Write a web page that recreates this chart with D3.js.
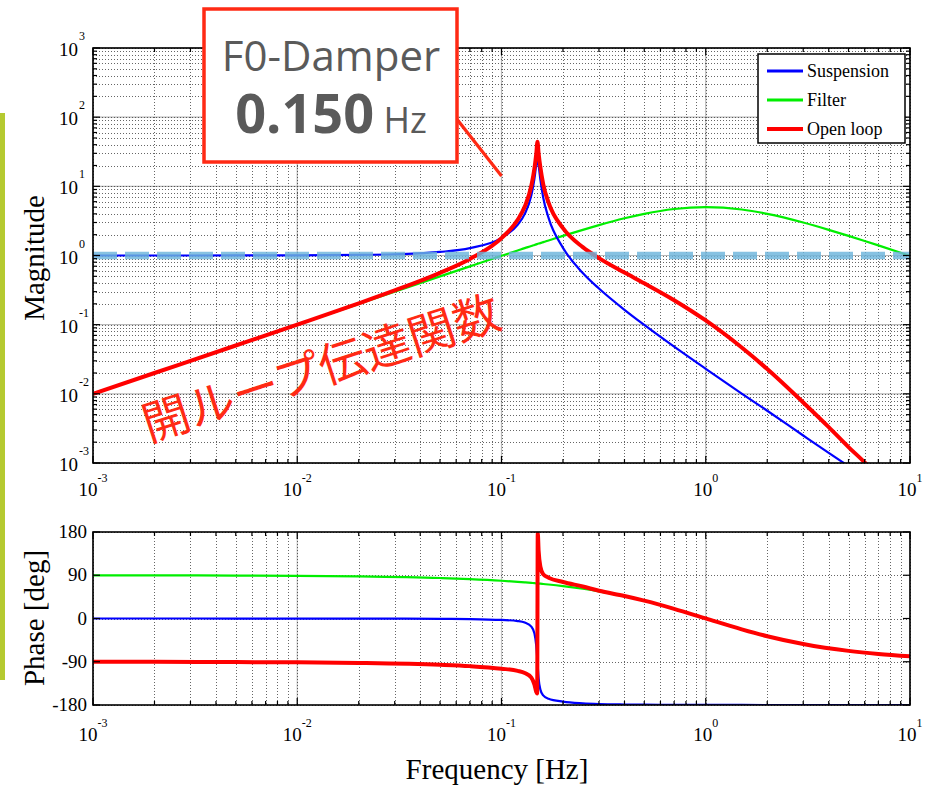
<!DOCTYPE html>
<html>
<head>
<meta charset="utf-8">
<script src="https://cdn.jsdelivr.net/npm/d3@7"></script>
<style>
  body { margin: 0; background: #fff; }
  svg { display: block; }
</style>
</head>
<body>
<svg id="chart" width="932" height="785"></svg>
<script>
// ---- data -------------------------------------------------------------
const freqHz = [0.001, 0.002, 0.005, 0.01, 0.02, 0.03, 0.05, 0.07, 0.1, 0.12, 0.13, 0.14, 0.145, 0.148, 0.15, 0.152, 0.155, 0.16, 0.17, 0.2, 0.25, 0.3, 0.4, 0.5, 0.7, 1, 1.5, 2, 3, 4, 5, 6, 7, 10];
const magSuspension = [1.0, 1.0, 1.001, 1.004, 1.018, 1.042, 1.125, 1.28, 1.8, 2.78, 4.0, 7.4, 12.9, 20.4, 24, 20, 12.5, 6.9, 3.5, 1.29, 0.56, 0.333, 0.164, 0.099, 0.048, 0.023, 0.0101, 0.0057, 0.0025, 0.0014, 0.0009, 0.00063, 0.00046, 0.000225];
const magFilter = [0.01, 0.02, 0.05, 0.1, 0.2, 0.3, 0.499, 0.697, 0.99, 1.18, 1.28, 1.37, 1.42, 1.45, 1.47, 1.49, 1.51, 1.56, 1.65, 1.92, 2.35, 2.75, 3.45, 4.0, 4.7, 5.0, 4.62, 4.0, 3.0, 2.35, 1.92, 1.62, 1.4, 0.99];
const magOpenLoop = [0.01, 0.02, 0.05, 0.1004, 0.2036, 0.3126, 0.562, 0.892, 1.78, 3.29, 5.1, 10.2, 18.3, 29.6, 44, 29.7, 18.9, 10.8, 5.8, 2.48, 1.32, 0.917, 0.566, 0.396, 0.226, 0.115, 0.0467, 0.0228, 0.0075, 0.0033, 0.0017, 0.00102, 0.00064, 0.00022];

const freqPhaseHz = [0.001, 0.002, 0.005, 0.01, 0.02, 0.05, 0.07, 0.1, 0.12, 0.13, 0.14, 0.145, 0.148, 0.1495, 0.1505, 0.152, 0.155, 0.16, 0.17, 0.2, 0.25, 0.3, 0.4, 0.5, 0.7, 1, 1.5, 2, 3, 5, 7, 10];
const phaseSuspension = [0, 0, -0.1, -0.1, -0.2, -0.6, -1.1, -3, -5.3, -8.5, -17, -31, -57, -80, -100, -125, -148, -160, -167, -173, -176.5, -178, -179, -179.4, -179.7, -179.8, -179.9, -180, -180, -180, -180, -180];
const phaseFilter = [89.9, 89.8, 89.4, 88.9, 87.7, 84.3, 82.0, 78.6, 76.3, 75.2, 74.1, 73.5, 73.2, 73.0, 72.9, 72.7, 72.4, 71.8, 70.7, 67.4, 61.9, 56.6, 46.4, 36.9, 20.0, 0, -22.6, -36.9, -53.1, -67.4, -73.7, -78.6];
const phaseOpenLoop = [-90.1, -90.2, -90.7, -91.2, -92.5, -96.3, -99.1, -104.4, -109, -113.3, -122.9, -137.5, -153, -156, 178, 140, 108, 92, 85, 76, 66.5, 57.8, 46.8, 37.1, 20.1, 0.1, -22.5, -36.9, -53.1, -67.4, -73.7, -78.6];

const seriesNames = ["Suspension", "Filter", "Open loop"];
const seriesColors = ["#0000ff", "#00ee00", "#ff0000"];
const seriesWidths = [2.2, 2.2, 4];

const freqExponents = [-3, -2, -1, 0, 1];
const magExponents = [-3, -2, -1, 0, 1, 2, 3];
const phaseTicks = [-180, -90, 0, 90, 180];

const resonanceLabel = ["F0-Damper", "0.150", "Hz"];
const unityGain = 1;

// ---- layout -----------------------------------------------------------
const svg = d3.select("#chart");
const L = 93, R = 910;
const mag = { top: 48, bottom: 463 };
const ph = { top: 532, bottom: 705 };

const x = d3.scaleLog().domain([1e-3, 10]).range([L, R]);
const yMag = d3.scaleLog().domain([1e-3, 1e3]).range([mag.bottom, mag.top]);
const yPh = d3.scaleLinear().domain([-180, 180]).range([ph.bottom, ph.top]);

const serif = "'Liberation Serif', 'Times New Roman', serif";

// side accent bar
svg.append("rect").attr("x", 0).attr("y", 113).attr("width", 5).attr("height", 567).attr("fill", "#b5ca30");

const defs = svg.append("defs");
defs.append("clipPath").attr("id", "clipMag").append("rect")
  .attr("x", L).attr("y", mag.top).attr("width", R - L).attr("height", mag.bottom - mag.top);
defs.append("clipPath").attr("id", "clipPh").append("rect")
  .attr("x", L).attr("y", ph.top).attr("width", R - L).attr("height", ph.bottom - ph.top);

const xTicksAll = x.ticks();           // 1..9 x 10^k
const isMajor = v => Math.abs(Math.log10(v) - Math.round(Math.log10(v))) < 1e-9;

// ---- magnitude grid ---------------------------------------------------
const gMag = svg.append("g");
const gridMinor = { stroke: "#333", "stroke-width": 1, "stroke-dasharray": "1,2", opacity: 0.75 };
function applyAttrs(sel, attrs) { Object.entries(attrs).forEach(([k, v]) => sel.attr(k, v)); return sel; }

const yMagTicksAll = yMag.ticks();
// major grid (solid light grey)
gMag.selectAll(".vmaj").data(xTicksAll.filter(isMajor)).join("line")
  .attr("x1", d => x(d)).attr("x2", d => x(d)).attr("y1", mag.top).attr("y2", mag.bottom)
  .attr("stroke", "#b8b8b8").attr("stroke-width", 1.2);
gMag.selectAll(".hmaj").data(yMagTicksAll.filter(isMajor)).join("line")
  .attr("y1", d => yMag(d)).attr("y2", d => yMag(d)).attr("x1", L).attr("x2", R)
  .attr("stroke", "#b8b8b8").attr("stroke-width", 1.2);
// dotted grid at every tick
applyAttrs(gMag.selectAll(".vmin").data(xTicksAll).join("line")
  .attr("x1", d => Math.round(x(d)) + 0.5).attr("x2", d => Math.round(x(d)) + 0.5)
  .attr("y1", mag.top).attr("y2", mag.bottom), gridMinor);
applyAttrs(gMag.selectAll(".hmin").data(yMagTicksAll).join("line")
  .attr("y1", d => Math.round(yMag(d)) + 0.5).attr("y2", d => Math.round(yMag(d)) + 0.5)
  .attr("x1", L).attr("x2", R), gridMinor);

// ---- phase grid -------------------------------------------------------
const gPh = svg.append("g");
gPh.selectAll(".vmaj").data(xTicksAll.filter(isMajor)).join("line")
  .attr("x1", d => x(d)).attr("x2", d => x(d)).attr("y1", ph.top).attr("y2", ph.bottom)
  .attr("stroke", "#c4c4c4").attr("stroke-width", 1.2);
applyAttrs(gPh.selectAll(".vmin").data(xTicksAll).join("line")
  .attr("x1", d => Math.round(x(d)) + 0.5).attr("x2", d => Math.round(x(d)) + 0.5)
  .attr("y1", ph.top).attr("y2", ph.bottom), gridMinor);
applyAttrs(gPh.selectAll(".hmin").data(phaseTicks).join("line")
  .attr("y1", d => Math.round(yPh(d)) + 0.5).attr("y2", d => Math.round(yPh(d)) + 0.5)
  .attr("x1", L).attr("x2", R), gridMinor);

// ---- curves -----------------------------------------------------------
const magData = [magSuspension, magFilter, magOpenLoop];
const phData = [phaseSuspension, phaseFilter, phaseOpenLoop];
const drawOrder = [1, 0, 2];

const magLine = d3.line().x(d => x(d[0])).y(d => yMag(d[1])).curve(d3.curveMonotoneX);
const phLine = d3.line().x(d => x(d[0])).y(d => yPh(d[1])).curve(d3.curveMonotoneX);

const gMagCurves = svg.append("g").attr("clip-path", "url(#clipMag)");
drawOrder.forEach(i => {
  gMagCurves.append("path")
    .attr("d", magLine(freqHz.map((f, j) => [f, magData[i][j]])))
    .attr("fill", "none").attr("stroke", seriesColors[i]).attr("stroke-width", seriesWidths[i])
    .attr("stroke-linejoin", "round");
});
// unity-gain reference
gMagCurves.append("line")
  .attr("x1", L).attr("x2", R).attr("y1", yMag(unityGain)).attr("y2", yMag(unityGain))
  .attr("stroke", "#6db5dc").attr("stroke-width", 7.5).attr("stroke-dasharray", "24,8")
  .attr("opacity", 0.82);

const gPhCurves = svg.append("g").attr("clip-path", "url(#clipPh)");
drawOrder.forEach(i => {
  gPhCurves.append("path")
    .attr("d", phLine(freqPhaseHz.map((f, j) => [f, phData[i][j]])))
    .attr("fill", "none").attr("stroke", seriesColors[i]).attr("stroke-width", seriesWidths[i])
    .attr("stroke-linejoin", "round");
});

// ---- axes frames and ticks -------------------------------------------
function frame(top, bottom, yTicks, yMajorTest, yScale) {
  const g = svg.append("g").attr("stroke", "#000");
  g.append("rect").attr("x", L).attr("y", top).attr("width", R - L).attr("height", bottom - top)
    .attr("fill", "none").attr("stroke-width", 1.6);
  xTicksAll.forEach(v => {
    const len = isMajor(v) ? 7 : 4, px = x(v);
    g.append("line").attr("x1", px).attr("x2", px).attr("y1", bottom).attr("y2", bottom - len).attr("stroke-width", 1.2);
    g.append("line").attr("x1", px).attr("x2", px).attr("y1", top).attr("y2", top + len).attr("stroke-width", 1.2);
  });
  yTicks.forEach(v => {
    const len = yMajorTest(v) ? 7 : 4, py = yScale(v);
    g.append("line").attr("x1", L).attr("x2", L + len).attr("y1", py).attr("y2", py).attr("stroke-width", 1.2);
    g.append("line").attr("x1", R).attr("x2", R - len).attr("y1", py).attr("y2", py).attr("stroke-width", 1.2);
  });
}
frame(mag.top, mag.bottom, yMagTicksAll, isMajor, yMag);
frame(ph.top, ph.bottom, phaseTicks, () => true, yPh);

// tick labels: powers of ten
function powerLabel(g, px, py, exp, anchor) {
  const t = g.append("text").attr("x", px).attr("y", py).attr("text-anchor", anchor)
    .attr("font-family", serif).attr("font-size", 19).attr("fill", "#000");
  t.append("tspan").text("10");
  t.append("tspan").attr("dy", -14).attr("font-size", 12).text(exp);
  return t;
}
const gLabels = svg.append("g");
freqExponents.forEach(e => {
  powerLabel(gLabels, x(Math.pow(10, e)), 496, e, "middle");
  powerLabel(gLabels, x(Math.pow(10, e)), 741, e, "middle");
});
magExponents.forEach(e => {
  const py = yMag(Math.pow(10, e));
  gLabels.append("text").attr("x", 78).attr("y", py + 8).attr("text-anchor", "end")
    .attr("font-family", serif).attr("font-size", 19).text("10");
  gLabels.append("text").attr("x", 79).attr("y", py - 8).attr("text-anchor", "start")
    .attr("font-family", serif).attr("font-size", 12).text(e);
});
phaseTicks.forEach(v => {
  gLabels.append("text").attr("x", 87).attr("y", yPh(v) + 6).attr("text-anchor", "end")
    .attr("font-family", serif).attr("font-size", 19).text(v);
});

// axis titles
svg.append("text").attr("transform", "translate(44,258) rotate(-90)").attr("text-anchor", "middle")
  .attr("font-family", serif).attr("font-size", 29).text("Magnitude");
svg.append("text").attr("transform", "translate(44,618) rotate(-90)").attr("text-anchor", "middle")
  .attr("font-family", serif).attr("font-size", 29).text("Phase [deg]");
svg.append("text").attr("x", 497).attr("y", 779).attr("text-anchor", "middle")
  .attr("font-family", serif).attr("font-size", 29).text("Frequency [Hz]");

// ---- legend -----------------------------------------------------------
const gLeg = svg.append("g");
gLeg.append("rect").attr("x", 758).attr("y", 54).attr("width", 147).attr("height", 89)
  .attr("fill", "#fff").attr("stroke", "#000").attr("stroke-width", 1.5);
seriesNames.forEach((name, i) => {
  const ly = 71 + i * 29;
  gLeg.append("line").attr("x1", 767).attr("x2", 803).attr("y1", ly).attr("y2", ly)
    .attr("stroke", seriesColors[i]).attr("stroke-width", i === 2 ? 4 : 2.8);
  gLeg.append("text").attr("x", 807).attr("y", ly + 6).attr("font-family", serif)
    .attr("font-size", 18).text(name);
});

// ---- resonance callout -----------------------------------------------
const calloutRed = "#ff2a14";
svg.append("line").attr("x1", 456).attr("y1", 118).attr("x2", x(0.1)).attr("y2", 176)
  .attr("stroke", calloutRed).attr("stroke-width", 3.2);
svg.append("rect").attr("x", 204).attr("y", 9).attr("width", 253).attr("height", 153)
  .attr("fill", "#fff").attr("stroke", calloutRed).attr("stroke-width", 3.5);
svg.append("text").attr("x", 331).attr("y", 71).attr("text-anchor", "middle")
  .attr("font-family", "'Open Sans', 'Noto Sans', sans-serif").attr("font-size", 42)
  .attr("fill", "#5a5a5a").text(resonanceLabel[0]);
const t2 = svg.append("text").attr("x", 331).attr("y", 133).attr("text-anchor", "middle")
  .attr("font-family", "'Open Sans', 'Noto Sans', sans-serif").attr("fill", "#5a5a5a");
t2.append("tspan").attr("font-size", 54).attr("font-weight", "bold").text(resonanceLabel[1]);
t2.append("tspan").attr("font-size", 36).text(" " + resonanceLabel[2]);

// rotated caption
svg.append("text").attr("transform", "translate(149,442) rotate(-18)")
  .attr("font-family", "'Noto Sans CJK JP', sans-serif").attr("font-size", 47)
  .attr("fill", calloutRed).text("開ループ伝達関数");
</script>
</body>
</html>
